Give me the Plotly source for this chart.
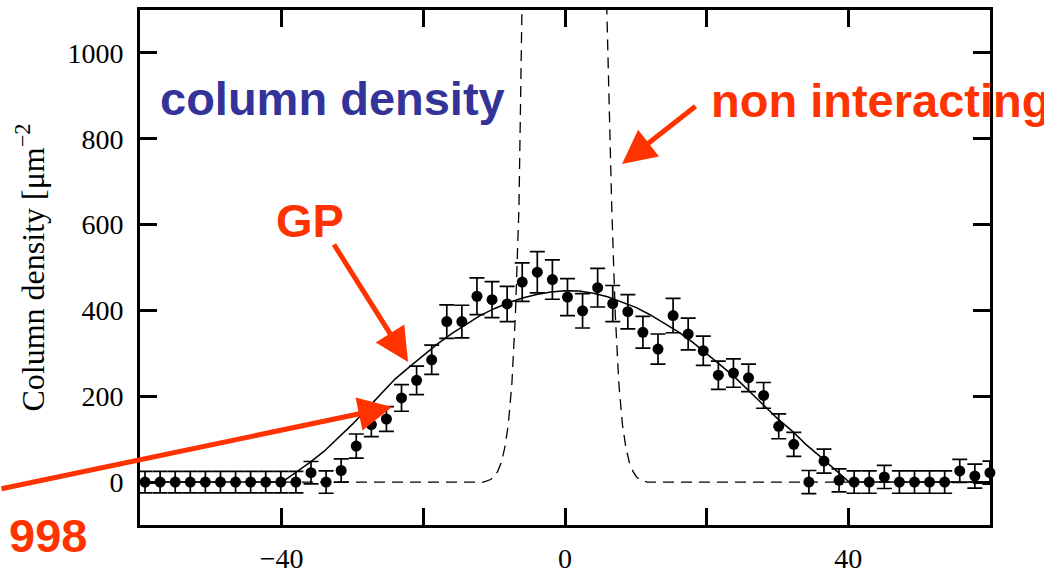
import plotly.graph_objects as go

# ---------------- data ----------------
x_pos = [-59.29, -57.16, -55.03, -52.90, -50.77, -48.64, -46.51, -44.38, -42.25, -40.12,
         -37.99, -35.86, -33.73, -31.60, -29.47, -27.34, -25.21, -23.08, -20.95, -18.82,
         -16.69, -14.56, -12.43, -10.30, -8.17, -6.04, -3.91, -1.78, 0.35, 2.48,
         4.61, 6.74, 8.87, 11.00, 13.13, 15.26, 17.39, 19.52, 21.65, 23.78,
         25.91, 28.04, 30.17, 32.30, 34.43, 36.56, 38.69, 40.82, 42.95, 45.08,
         47.21, 49.34, 51.47, 53.60, 55.73, 57.86, 59.99]
density = [0, 0, 0, 0, 0, 0, 0, 0, 0, 0,
           0, 22, 0, 27, 84, 134, 147, 196, 237, 285,
           374, 374, 433, 425, 415, 466, 489, 472, 431, 399,
           453, 416, 397, 349, 310, 388, 345, 306, 249, 254,
           243, 202, 130, 88, 0, 49, 4, 0, 0, 12,
           0, 0, 0, 0, 26, 14, 22]
density_err = [25, 25, 25, 25, 25, 25, 25, 25, 25, 25,
               25, 26, 26, 27, 28, 28, 29, 31, 33, 34,
               39, 38, 43, 42, 41, 45, 48, 46, 43, 40,
               45, 42, 40, 37, 35, 40, 37, 34, 33, 33,
               32, 30, 29, 28, 27, 28, 27, 26, 26, 27,
               26, 26, 26, 26, 27, 28, 27]

gp_x = [-60, -40, -39.5, -38, -36, -34, -32, -30, -28, -26, -24, -22, -20, -18, -16, -14,
        -12, -10, -8, -6, -4, -2, 0, 2, 4, 6, 8, 10, 12, 14, 16, 18, 20, 22, 24, 26, 28,
        30, 32, 34, 36, 37, 38, 39, 40, 40.5, 60]
gp_y = [0, 0, 5, 22, 46, 72, 103, 135, 170, 205, 240, 268, 296, 322, 346, 368,
        388, 404, 418, 429, 437, 443, 446, 445, 440, 432, 420, 407, 390, 370, 350, 326, 300, 272, 244, 212, 180,
        148, 120, 88, 60, 46, 32, 16, 2, 0, 0]

nonint_x = [-60, -11.5, -10.5, -10.0, -9.5, -9.0, -8.5, -8.0, -7.5, -7.0, -6.5, -6.0, -5.5, -5.0,
            -4.0, -2.0, 0.05, 2.1, 4.1, 5.1, 5.6, 6.1, 6.6, 7.1, 7.6, 8.1, 8.6, 9.1, 9.6,
            10.1, 10.6, 11.6, 60]
nonint_y = [0, 0, 6, 12, 25, 45, 80, 135, 230, 390, 640, 960, 1300, 1700,
            2600, 5000, 7800, 5000, 2600, 1700, 1300, 960, 640, 390, 230, 135, 80, 45, 25,
            12, 6, 0, 0]

x_tickvals = [-40, -20, 0, 20, 40]
x_ticktext = ["\u221240", "", "0", "", "40"]
y_tickvals = [0, 200, 400, 600, 800, 1000]
y_ticktext = ["0", "200", "400", "600", "800", "1000"]

RED = "#FF3300"
BLUE = "#333399"

# ---------------- figure ----------------
fig = go.Figure()
fig.add_trace(go.Scatter(x=nonint_x, y=nonint_y, mode="lines",
                         line=dict(color="black", width=1.3, dash="11px,7px"),
                         hoverinfo="skip"))
fig.add_trace(go.Scatter(x=gp_x, y=gp_y, mode="lines",
                         line=dict(color="black", width=1.5), hoverinfo="skip"))
fig.add_trace(go.Scatter(x=x_pos, y=density, mode="markers",
                         marker=dict(color="black", size=11),
                         error_y=dict(type="data", array=density_err, color="black",
                                      thickness=1.7, width=7.5),
                         cliponaxis=False))

axis_common = dict(ticks="inside", ticklen=17, tickwidth=3, tickcolor="black",
                   showline=True, linecolor="black", linewidth=3, mirror="allticks",
                   showgrid=False, zeroline=False, automargin=False,
                   tickfont=dict(family="Liberation Serif", size=28, color="black"))

fig.update_xaxes(range=[-60, 60], tickmode="array", tickvals=x_tickvals, ticktext=x_ticktext,
                 ticklabelstandoff=6, **axis_common)
fig.update_yaxes(range=[-100, 1100], tickmode="array", tickvals=y_tickvals, ticktext=y_ticktext,
                 ticklabelstandoff=8,
                 title=dict(text="Column density [\u03bcm<sup>\u22122</sup>",
                            font=dict(family="Liberation Serif", size=32, color="black"),
                            standoff=14),
                 **axis_common)

fig.update_layout(width=1044, height=569, margin=dict(l=140, r=54, t=10, b=44, autoexpand=False),
                  paper_bgcolor="white", plot_bgcolor="white", showlegend=False)

# text labels
fig.add_annotation(xref="paper", yref="paper", x=0.2265, y=0.8272, text="<b>column density</b>",
                   showarrow=False, xanchor="center", yanchor="middle",
                   font=dict(family="Liberation Sans", size=47, color=BLUE))
fig.add_annotation(xref="paper", yref="paper", x=0.6694, y=0.8239, text="<b>non interacting</b>",
                   showarrow=False, xanchor="left", yanchor="middle",
                   font=dict(family="Liberation Sans", size=47, color=RED))
fig.add_annotation(xref="paper", yref="paper", x=0.1576, y=0.5909, text="<b>GP</b>",
                   showarrow=False, xanchor="left", yanchor="middle",
                   font=dict(family="Liberation Sans", size=47, color=RED))
fig.add_annotation(xref="paper", yref="paper", x=-0.1565, y=-0.0202, text="<b>998</b>",
                   showarrow=False, xanchor="left", yanchor="middle",
                   font=dict(family="Liberation Sans", size=47, color=RED))

# arrows
arrow_style = dict(xref="paper", yref="paper", text="", showarrow=True, arrowhead=2,
                   arrowsize=1.35, arrowwidth=5, arrowcolor=RED, standoff=0)
fig.add_annotation(x=0.3153, y=0.3165, ax=-75, ay=-119, **arrow_style)
fig.add_annotation(x=0.2965, y=0.2291, ax=-400, ay=82, **arrow_style)
fig.add_annotation(x=0.5671, y=0.7010, ax=75, ay=-59, **arrow_style)

fig.write_html("out.html", config={"displayModeBar": False},
               post_script="document.body.style.margin='0';")
